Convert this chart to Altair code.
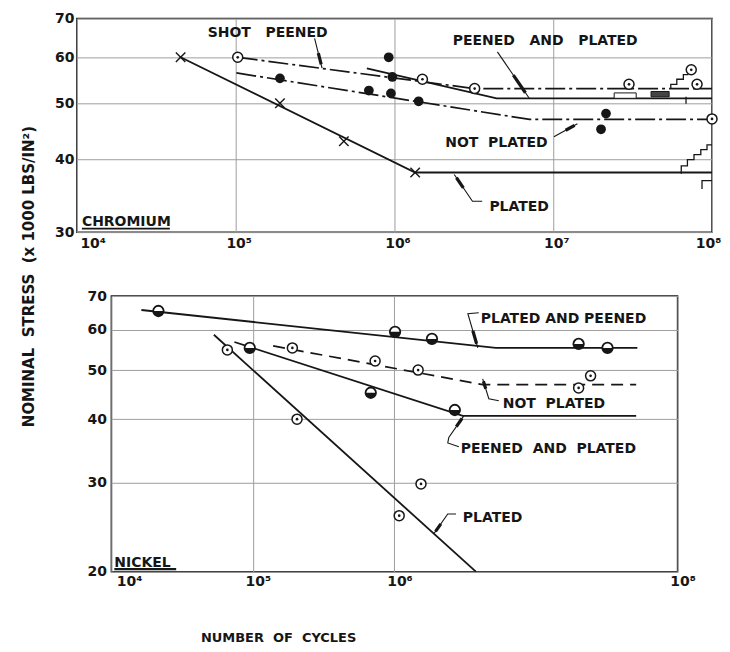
import math
import altair as alt
import pandas as pd

# ======================= CHROMIUM (upper panel) =======================
# cycles (N) and nominal stress (S, x1000 lb/in^2)
cr_x_N = [4.5e4, 1.9e5, 4.8e5, 1.35e6]
cr_x_S = [60, 50, 43, 38]

cr_filled_N = [1.9e5, 6.9e5, 9.2e5, 9.7e5, 9.5e5, 1.42e6, 2.15e7, 2.0e7]
cr_filled_S = [55.2, 52.6, 60.0, 55.5, 52.0, 50.4, 48.0, 45.1]

cr_open_N = [1.03e5, 1.5e6, 3.2e6, 3.0e7, 7.4e7, 8.05e7, 1.0e8]
cr_open_S = [60.0, 55.0, 53.0, 53.9, 57.1, 53.9, 47.0]

cr_plated_N = [4.5e4, 1.35e6, 1.0e8]
cr_plated_S = [60.0, 38.0, 38.0]
cr_peened_plated_N = [6.7e5, 4.4e6, 1.0e8]
cr_peened_plated_S = [57.4, 51.0, 51.0]
cr_shot_peened_N = [1.03e5, 3.2e6, 1.0e8]
cr_shot_peened_S = [60.0, 53.0, 53.0]
cr_not_plated_N = [1.01e5, 7.1e6, 1.0e8]
cr_not_plated_S = [56.4, 46.9, 46.9]

# run-out symbols at the right edge
cr_stair1_N = [6.4e7, 7.0e7, 7.7e7, 8.5e7, 9.3e7, 1.0e8]
cr_stair1_S = [37.8, 39.0, 40.0, 40.8, 41.6, 42.4]
cr_stair2_N = [5.5e7, 6.0e7, 6.6e7, 7.1e7]
cr_stair2_S = [52.9, 53.9, 55.0, 56.0]
cr_bracket_N = [8.65e7, 8.65e7, 1.0e8]
cr_bracket_S = [35.6, 36.8, 36.8]
cr_tick_N = [6.86e7, 6.86e7]
cr_tick_S = [51.3, 49.9]
cr_box_N1 = [2.42e7, 4.13e7]
cr_box_N2 = [3.33e7, 5.37e7]
cr_box_S1 = [51.0, 51.3]
cr_box_S2 = [52.1, 52.4]
cr_box_kind = ["open", "dark"]

SP = "\u00a0"  # non-collapsing space for the widely spaced lettering

# labels
cr_text = ["SHOT" + SP * 3 + "PEENED", "PEENED" + SP * 3 + "AND" + SP * 3 + "PLATED",
           "NOT" + SP * 2 + "PLATED", "PLATED"]
cr_text_N = [1.59e5, 8.9e6, 4.39e6, 6.1e6]
cr_text_S = [65.0, 63.0, 42.0, 32.6]
cr_panel_name = "CHROMIUM"
cr_panel_N = 1.075e4
cr_panel_S = 30.72
cr_underline_N = [1.075e4, 3.85e4]
cr_underline_S = [30.42, 30.42]

# leader lines (first point at the curve)
cr_leaders = [
    ([3.5e5, 3.14e5], [57.5, 64.7]),
    ([7.06e6, 4.45e6], [51.0, 61.3]),
    ([1.42e7, 1.01e7], [46.1, 43.8]),
    ([2.38e6, 3.1e6, 3.57e6], [37.7, 33.9, 33.9]),
]

# ======================= NICKEL (lower panel) =======================
ni_half_N = [2.15e4, 9.5e4, 6.8e5, 1.01e6, 1.84e6, 2.67e6, 2.0e7, 3.2e7]
ni_half_S = [65.4, 55.3, 45.1, 59.5, 57.6, 41.7, 56.3, 55.3]

ni_open_N = [6.6e4, 1.9e5, 2.05e5, 7.3e5, 1.47e6, 2.43e7, 2.0e7, 1.54e6, 1.08e6]
ni_open_S = [54.8, 55.3, 40.0, 52.1, 50.0, 48.7, 46.1, 29.8, 25.8]

ni_plated_peened_N = [1.63e4, 5.2e6, 5.2e7]
ni_plated_peened_S = [65.7, 55.3, 55.3]
ni_not_plated_N = [1.39e5, 4.2e6, 5.1e7]
ni_not_plated_S = [55.8, 46.8, 46.8]
ni_peened_plated_N = [7.4e4, 3.04e6, 5.1e7]
ni_peened_plated_S = [56.8, 40.6, 40.6]
ni_plated_N = [5.3e4, 3.76e6]
ni_plated_S = [58.7, 20.0]

ni_text = ["PLATED" + SP + "AND" + SP + "PEENED", "NOT" + SP * 2 + "PLATED",
           "PEENED" + SP * 2 + "AND" + SP * 2 + "PLATED", "PLATED"]
ni_text_N = [4.07e6, 5.82e6, 2.94e6, 3.04e6]
ni_text_S = [61.96, 42.1, 34.3, 25.1]
ni_panel_name = "NICKEL"
ni_panel_N = 1.05e4
ni_panel_S = 20.46
ni_underline_N = [1.05e4, 2.87e4]
ni_underline_S = [20.23, 20.23]

ni_leaders = [
    ([3.88e6, 3.3e6, 3.94e6], [55.3, 64.6, 64.9]),
    ([4.2e6, 4.64e6, 5.46e6], [48.05, 43.9, 43.5]),
    ([3.09e6, 2.42e6, 2.38e6, 2.85e6], [40.6, 36.8, 35.9, 35.3]),
    ([1.9e6, 2.38e6, 2.72e6], [23.77, 26.0, 26.0]),
]

# axes
top_x_ticks = [1e4, 1e5, 1e6, 1e7, 1e8]
top_y_ticks = [30, 40, 50, 60, 70]
bot_x_ticks = [1e4, 1e5, 1e6, 1e8]
bot_y_ticks = [20, 30, 40, 50, 60, 70]
Y_TITLE = "NOMINAL" + SP * 2 + "STRESS" + SP * 2 + "(x" + SP + "1000" + SP + "LBS/IN²)"
X_TITLE = "NUMBER" + SP * 2 + "OF" + SP * 2 + "CYCLES"

# ======================= styling =======================
FONT = "DejaVu Sans"
INK = "#161616"
GRID = "#9e9e9e"
X_SHAPE = "M-1,-1L1,1M-1,1L1,-1"
HALF_SHAPE = "M1,0" + "".join(
    f"L{math.cos(math.pi * i / 12):.3f},{math.sin(math.pi * i / 12):.3f}" for i in range(1, 13)
) + "Z"
LABEL_EXPR = ("'10' + ['⁰','¹','²','³','⁴','⁵','⁶','⁷','⁸','⁹']"
              "[round(log(datum.value) / LN10)]")
FIRST_LEFT = {"condition": {"test": "datum.value <= 10000", "value": "left"},
              "value": "center"}


def groups_df(groups):
    rows = []
    for k, (ns, ss) in enumerate(groups):
        for o, (n, s) in enumerate(zip(ns, ss)):
            rows.append({"N": n, "S": s, "k": k, "o": o})
    return pd.DataFrame(rows)


def tips_df(groups, a=0.12, b=0.5):
    rows = []
    for k, (ns, ss) in enumerate(groups):
        ln0, ln1 = math.log10(ns[0]), math.log10(ns[1])
        ls0, ls1 = math.log10(ss[0]), math.log10(ss[1])
        for o, f in enumerate((a, b)):
            rows.append({"N": 10 ** (ln0 + f * (ln1 - ln0)),
                         "S": 10 ** (ls0 + f * (ls1 - ls0)), "k": k, "o": o})
    return pd.DataFrame(rows)


def pts_df(ns, ss):
    return pd.DataFrame({"N": ns, "S": ss})


def make_panel(xs, ys, xa, ya, w, h, solid, dashed, dash, steps, thin, leaders,
               crosses, filled, opens, halves, texts, text_align, name, underline,
               ul_width, boxes=None):
    X = alt.X("N:Q", scale=xs, axis=xa)
    Y = alt.Y("S:Q", scale=ys, axis=ya)
    layers = []

    def line(df, **mk):
        return alt.Chart(df).mark_line(color=INK, **mk).encode(
            x=X, y=Y, detail="k:N", order="o:Q")

    layers.append(line(groups_df(solid), strokeWidth=1.8))
    if dashed:
        layers.append(line(groups_df(dashed), strokeWidth=1.7, strokeDash=dash))
    if steps:
        layers.append(line(groups_df(steps), strokeWidth=1.3, interpolate="step-before"))
    if thin:
        layers.append(line(groups_df(thin), strokeWidth=1.3))
    layers.append(line(groups_df(leaders), strokeWidth=1.1))
    layers.append(line(tips_df(leaders), strokeWidth=3.2))
    layers.append(line(groups_df([underline]), strokeWidth=ul_width))
    if boxes is not None:
        layers.append(alt.Chart(boxes).mark_rect(stroke=INK, strokeWidth=1).encode(
            x=alt.X("N1:Q", scale=xs, axis=xa), x2="N2:Q",
            y=alt.Y("S1:Q", scale=ys, axis=ya), y2="S2:Q",
            fill=alt.Fill("kind:N", scale=alt.Scale(domain=["open", "dark"],
                                                    range=["white", "#444444"]),
                          legend=None)))
    if crosses is not None:
        layers.append(alt.Chart(crosses).mark_point(
            shape=X_SHAPE, size=90, filled=False, stroke=INK, strokeWidth=1.4,
            opacity=1).encode(x=X, y=Y))
    if filled is not None:
        layers.append(alt.Chart(filled).mark_point(
            shape="circle", size=95, filled=True, color=INK, opacity=1).encode(x=X, y=Y))
    if halves is not None:
        layers.append(alt.Chart(halves).mark_point(
            shape="circle", size=110, filled=True, fill="white", stroke=INK,
            strokeWidth=1.8, opacity=1).encode(x=X, y=Y))
        layers.append(alt.Chart(halves).mark_point(
            shape=HALF_SHAPE, size=110, filled=True, color=INK, opacity=1).encode(x=X, y=Y))
    if opens is not None:
        layers.append(alt.Chart(opens).mark_point(
            shape="circle", size=100, filled=True, fill="white", stroke=INK,
            strokeWidth=1.5, opacity=1).encode(x=X, y=Y))
        layers.append(alt.Chart(opens).mark_point(
            shape="circle", size=7, filled=True, color=INK, opacity=1).encode(x=X, y=Y))
    layers.append(alt.Chart(texts).mark_text(
        align=text_align, baseline="alphabetic", font=FONT, fontSize=14,
        fontWeight="bold", color=INK).encode(x=X, y=Y, text="t:N"))
    layers.append(alt.Chart(name).mark_text(
        align="left", baseline="alphabetic", font=FONT, fontSize=14,
        fontWeight="bold", color=INK).encode(x=X, y=Y, text="t:N"))
    return alt.layer(*layers).properties(width=w, height=h)


# ---------------- upper panel ----------------
top_xs = alt.Scale(type="log", domain=[1e4, 1e8], nice=False)
top_ys = alt.Scale(type="log", domain=[30, 70], nice=False)
top_xa = alt.Axis(values=top_x_ticks, labelExpr=LABEL_EXPR, title=None,
                  labelPadding=4, labelBaseline="top", labelFlush=False,
                  labelAlign=FIRST_LEFT,
                  labelOffset={"condition": {"test": "datum.value >= 1e8", "value": -4},
                               "value": 3})
top_ya = alt.Axis(values=top_y_ticks, format="d", title=Y_TITLE, titleX=-48,
                  titleY=258, titleAngle=270, titleAlign="center",
                  titleBaseline="middle", labelPadding=3)

top = make_panel(
    top_xs, top_ys, top_xa, top_ya, 636, 214,
    solid=[(cr_plated_N, cr_plated_S), (cr_peened_plated_N, cr_peened_plated_S)],
    dashed=[(cr_shot_peened_N, cr_shot_peened_S), (cr_not_plated_N, cr_not_plated_S)],
    dash=[20, 4, 3, 4],
    steps=[(cr_stair1_N, cr_stair1_S), (cr_stair2_N, cr_stair2_S)],
    thin=[(cr_bracket_N, cr_bracket_S), (cr_tick_N, cr_tick_S)],
    leaders=cr_leaders,
    crosses=pts_df(cr_x_N, cr_x_S),
    filled=pts_df(cr_filled_N, cr_filled_S),
    opens=pts_df(cr_open_N, cr_open_S),
    halves=None,
    texts=pd.DataFrame({"N": cr_text_N, "S": cr_text_S, "t": cr_text}),
    text_align="center",
    name=pd.DataFrame({"N": [cr_panel_N], "S": [cr_panel_S], "t": [cr_panel_name]}),
    underline=(cr_underline_N, cr_underline_S), ul_width=1.6,
    boxes=pd.DataFrame({"N1": cr_box_N1, "N2": cr_box_N2, "S1": cr_box_S1,
                        "S2": cr_box_S2, "kind": cr_box_kind}),
)

# ---------------- lower panel ----------------
bot_xs = alt.Scale(type="log", domain=[1e4, 1e8], nice=False)
bot_ys = alt.Scale(type="log", domain=[20, 70], nice=False)
bot_xa = alt.Axis(values=bot_x_ticks, labelExpr=LABEL_EXPR, title=X_TITLE,
                  titleX=167, titleY=66, titleAlign="center", titleBaseline="middle",
                  titleFontSize=13, labelPadding=3, labelOffset=5, labelBaseline="top",
                  labelFlush=False, labelAlign=FIRST_LEFT)
bot_ya = alt.Axis(values=bot_y_ticks, format="d", title=None, labelPadding=5)

bot = make_panel(
    bot_xs, bot_ys, bot_xa, bot_ya, 567, 276,
    solid=[(ni_plated_peened_N, ni_plated_peened_S),
           (ni_peened_plated_N, ni_peened_plated_S), (ni_plated_N, ni_plated_S)],
    dashed=[(ni_not_plated_N, ni_not_plated_S)],
    dash=[12, 7],
    steps=None, thin=None,
    leaders=ni_leaders,
    crosses=None, filled=None,
    opens=pts_df(ni_open_N, ni_open_S),
    halves=pts_df(ni_half_N, ni_half_S),
    texts=pd.DataFrame({"N": ni_text_N, "S": ni_text_S, "t": ni_text}),
    text_align="left",
    name=pd.DataFrame({"N": [ni_panel_N], "S": [ni_panel_S], "t": [ni_panel_name]}),
    underline=(ni_underline_N, ni_underline_S), ul_width=2.2,
)

chart = alt.vconcat(top, bot, spacing=64, center=True, bounds="flush").properties(
    padding={"left": 13, "top": 2, "right": 0, "bottom": 0}, background="white"
).configure_view(stroke=INK, strokeWidth=1.5).configure_axis(
    grid=True, gridColor=GRID, gridWidth=1, domain=False, ticks=False,
    labelFont=FONT, labelFontSize=14, labelFontWeight="bold", labelColor=INK,
    titleFont=FONT, titleFontSize=15, titleFontWeight="bold", titleColor=INK,
)

chart.save("out.html", embed_options={"renderer": "svg", "actions": False})
